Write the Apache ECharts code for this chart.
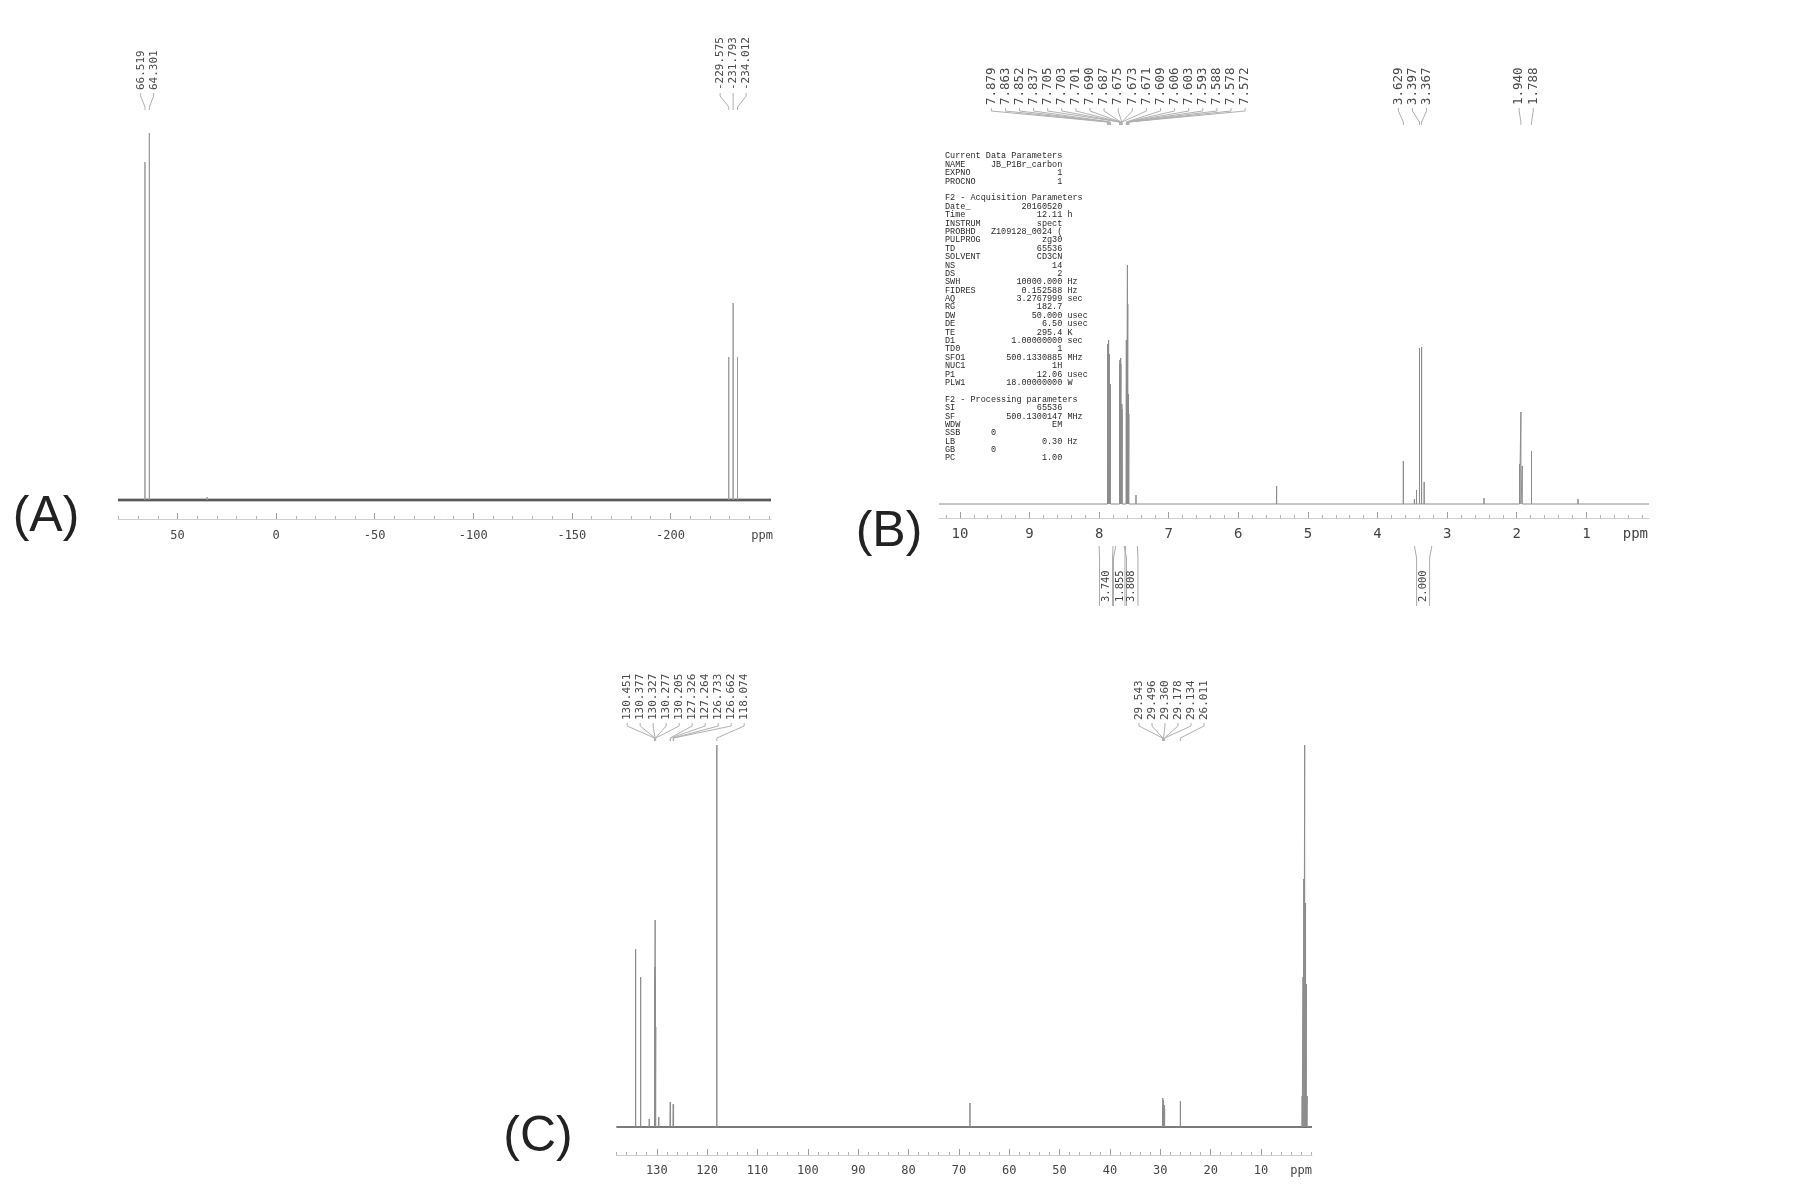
<!DOCTYPE html>
<html><head><meta charset="utf-8">
<script src="https://cdn.jsdelivr.net/npm/echarts@6/dist/echarts.min.js"></script>
<style>html,body{margin:0;padding:0;background:#fff}#c{width:1800px;height:1200px}</style>
</head><body><div id="c"></div>
<script>
// ---------------- DATA ----------------
// Panel A (19F spectrum)
const peaksA_ppm = [66.519, 64.301, 35.0, -229.575, -231.793, -234.012];
const peaksA_int = [338, 367, 3, 143, 197, 143];
const labelsA = [['66.519', '64.301'], ['-229.575', '-231.793', '-234.012']];
const ticksA = [50, 0, -50, -100, -150, -200];

// Panel B (1H spectrum)
const peaksB_ppm = [7.879, 7.863, 7.852, 7.837, 7.705, 7.703, 7.701, 7.690, 7.687, 7.675, 7.673, 7.671,
  7.609, 7.606, 7.603, 7.593, 7.588, 7.578, 7.572, 7.47, 5.45, 3.629, 3.47, 3.44, 3.397, 3.367, 3.33,
  2.47, 1.96, 1.940, 1.92, 1.788, 1.12];
const peaksB_int = [160, 164, 150, 120, 130, 140, 144, 146, 140, 90, 100, 95,
  164, 150, 160, 239, 200, 110, 90, 9, 18, 43, 5, 14, 156, 157, 22,
  6, 40, 92, 38, 53, 5];
const labelsB = [['7.879', '7.863', '7.852', '7.837', '7.705', '7.703', '7.701', '7.690', '7.687', '7.675',
  '7.673', '7.671', '7.609', '7.606', '7.603', '7.593', '7.588', '7.578', '7.572'],
  ['3.629', '3.397', '3.367'], ['1.940', '1.788']];
const ticksB = [10, 9, 8, 7, 6, 5, 4, 3, 2, 1];
const integralVals = ['3.740', '1.855', '3.808', '2.000'];
const integralFrom = [8.0, 7.76, 7.62, 3.47];
const integralTo = [7.8, 7.64, 7.45, 3.22];

// Panel C (13C spectrum)
const peaksC_ppm = [134.2, 133.2, 131.5, 130.451, 130.377, 130.327, 130.277, 130.205, 129.6,
  127.326, 127.264, 126.733, 126.662, 118.074, 67.8,
  29.543, 29.496, 29.360, 29.178, 29.134, 26.011,
  1.82, 1.65, 1.49, 1.32, 1.15, 0.99, 0.82];
const peaksC_int = [178, 150, 8, 120, 160, 207, 150, 100, 10,
  25, 24, 23, 22, 382, 24,
  20, 29, 27, 22, 18, 26,
  31, 150, 248, 382, 224, 143, 31];
const labelsC = [['130.451', '130.377', '130.327', '130.277', '130.205', '127.326', '127.264', '126.733', '126.662', '118.074'],
  ['29.543', '29.496', '29.360', '29.178', '29.134', '26.011']];
const ticksC = [130, 120, 110, 100, 90, 80, 70, 60, 50, 40, 30, 20, 10];

// Acquisition parameter text block (panel B)
const params = [
  ['Current Data Parameters'], ['NAME', 'JB_P1Br_carbon'], ['EXPNO', '1'], ['PROCNO', '1'], [''],
  ['F2 - Acquisition Parameters'], ['Date_', '20160520'], ['Time', '12.11', 'h'], ['INSTRUM', 'spect'],
  ['PROBHD', 'Z109128_0024 ('], ['PULPROG', 'zg30'], ['TD', '65536'], ['SOLVENT', 'CD3CN'], ['NS', '14'],
  ['DS', '2'], ['SWH', '10000.000', 'Hz'], ['FIDRES', '0.152588', 'Hz'], ['AQ', '3.2767999', 'sec'],
  ['RG', '182.7'], ['DW', '50.000', 'usec'], ['DE', '6.50', 'usec'], ['TE', '295.4', 'K'],
  ['D1', '1.00000000', 'sec'], ['TD0', '1'], ['SFO1', '500.1330885', 'MHz'], ['NUC1', '1H'],
  ['P1', '12.06', 'usec'], ['PLW1', '18.00000000', 'W'], [''],
  ['F2 - Processing parameters'], ['SI', '65536'], ['SF', '500.1300147', 'MHz'], ['WDW', 'EM'],
  ['SSB      0'], ['LB', '0.30', 'Hz'], ['GB       0'], ['PC', '1.00']
];

// ---------------- BUILD ----------------
const MONO = '"DejaVu Sans Mono", monospace';
function sticks(ppm, ints, xmin, xmax) {
  const idx = ppm.map((p, i) => i).sort((a, b) => ppm[b] - ppm[a]);
  const d = [[xmax, 0]];
  idx.forEach(i => { d.push([ppm[i], 0], [ppm[i], ints[i]], [ppm[i], 0]); });
  d.push([xmin, 0]);
  return d;
}
function minorTicks(lo, hi, step) {
  const out = [];
  for (let k = Math.ceil(lo / step - 1e-9); k * step <= hi + 1e-9; k++) out.push(+(k * step).toFixed(4));
  return out;
}
function axesFor(grid, min, max, minorVals, majorVals, fontSize, margin) {
  return [
    { gridIndex: grid, type: 'value', min, max, inverse: true, position: 'bottom',
      axisLine: { show: true, onZero: false, lineStyle: { color: '#cfcfcf', width: 1 } },
      axisTick: { show: true, inside: true, length: 3, customValues: minorVals, lineStyle: { color: '#b5b5b5' } },
      axisLabel: { show: false }, splitLine: { show: false } },
    { gridIndex: grid, type: 'value', min, max, inverse: true, position: 'bottom',
      axisLine: { show: false, onZero: false },
      axisTick: { show: true, inside: true, length: 6, customValues: majorVals, lineStyle: { color: '#a0a0a0' } },
      axisLabel: { show: true, customValues: majorVals, fontSize, margin, color: '#444', fontFamily: MONO },
      splitLine: { show: false } }
  ];
}

const xA = [-251, 80.2], xB = [0.1, 10.3], xC = [-0.13, 138];

const chart = echarts.init(document.getElementById('c'));
chart.setOption({
  animation: false,
  backgroundColor: '#fff',
  grid: [
    { left: 118, top: 119, width: 653, height: 400 },
    { left: 939, top: 118, width: 710, height: 400 },
    { left: 616.5, top: 735, width: 695.5, height: 420 }
  ],
  xAxis: [
    ...axesFor(0, xA[0], xA[1], minorTicks(-250, 80, 10), ticksA, 12, 11),
    ...axesFor(1, xB[0], xB[1], minorTicks(0.2, 10.2, 0.2), ticksB, 14, 9),
    ...axesFor(2, xC[0], xC[1], minorTicks(0, 138, 2), ticksC, 12, 10)
  ],
  yAxis: [
    { gridIndex: 0, type: 'value', min: -19, max: 381, show: false },
    { gridIndex: 1, type: 'value', min: -14, max: 386, show: false },
    { gridIndex: 2, type: 'value', min: -28, max: 392, show: false }
  ],
  series: [
    { type: 'line', xAxisIndex: 0, yAxisIndex: 0, showSymbol: false, silent: true,
      data: [[xA[1], 0], [xA[0], 0]], lineStyle: { color: '#1a1a1a', width: 2.4 }, z: 2 },
    { type: 'line', xAxisIndex: 0, yAxisIndex: 0, showSymbol: false, silent: true,
      data: sticks(peaksA_ppm, peaksA_int, xA[0], xA[1]), lineStyle: { color: '#9a9a9a', width: 1 }, z: 3 },
    { type: 'line', xAxisIndex: 2, yAxisIndex: 1, showSymbol: false, silent: true,
      data: sticks(peaksB_ppm, peaksB_int, xB[0], xB[1]), lineStyle: { color: '#8c8c8c', width: 1 }, z: 3 },
    { type: 'line', xAxisIndex: 4, yAxisIndex: 2, showSymbol: false, silent: true,
      data: [[xC[1], 0], [xC[0], 0]], lineStyle: { color: '#3a3a3a', width: 1.6 }, z: 2 },
    { type: 'line', xAxisIndex: 4, yAxisIndex: 2, showSymbol: false, silent: true,
      data: sticks(peaksC_ppm, peaksC_int, xC[0], xC[1]), lineStyle: { color: '#8c8c8c', width: 1 }, z: 3 }
  ]
});

// ---------------- ANNOTATIONS ----------------
const els = [];
function px(xIdx, v) { return chart.convertToPixel({ xAxisIndex: xIdx }, v); }
function vtext(x, y, text, size, color) {
  els.push({ type: 'text', x, y, rotation: Math.PI / 2, silent: true,
    style: { text, font: size + 'px ' + MONO, fill: color || '#444',
      align: 'left', verticalAlign: 'middle', textAlign: 'left', textVerticalAlign: 'middle' } });
}
function line(points, color) {
  els.push({ type: 'polyline', silent: true, shape: { points },
    style: { stroke: color || '#aaa', lineWidth: 1, fill: null } });
}
function labelGroups(xIdx, groups, spacing, yb, yc, size) {
  groups.forEach(g => {
    const pks = g.map(l => px(xIdx, parseFloat(l)));
    const mid = (Math.min(...pks) + Math.max(...pks)) / 2;
    const n = g.length;
    g.forEach((l, i) => {
      const lx = mid + (i - (n - 1) / 2) * spacing;
      vtext(lx, yb, l, size, '#4a4a4a');
      line([[lx, yb + 3], [lx, yb + 6], [pks[i], yc], [pks[i], yc + 3]], '#b0b0b0');
    });
  });
}
labelGroups(0, labelsA, 13, 90, 107, 11);
labelGroups(2, labelsB, 14.1, 105, 122, 12.5);
labelGroups(4, labelsC, 13, 720, 738, 11);

// integrals under panel B
integralVals.forEach((v, i) => {
  const a = px(2, integralFrom[i]), b = px(2, integralTo[i]);
  const cx = (a + b) / 2;
  line([[a, 546], [cx - 6.5, 558], [cx - 6.5, 606]], '#aaa');
  line([[b, 546], [cx + 6.5, 558], [cx + 6.5, 606]], '#aaa');
  vtext(cx, 602, v, 10.5, '#444');
});

// "ppm" axis unit labels
function ppmLabel(xIdx, minVal, y, size, dx) {
  els.push({ type: 'text', x: px(xIdx, minVal) + dx, y, silent: true,
    style: { text: 'ppm', font: size + 'px ' + MONO, fill: '#444',
      align: 'right', verticalAlign: 'middle', textAlign: 'right', textVerticalAlign: 'middle' } });
}
ppmLabel(0, xA[0], 536, 12, 2);
ppmLabel(2, xB[0], 534, 14, -1);
ppmLabel(4, xC[0], 1171, 12, 0);

// panel letters
[['(A)', 46, 517], ['(B)', 889, 532], ['(C)', 538, 1137]].forEach(([t, x, y]) => {
  els.push({ type: 'text', x, y, silent: true,
    style: { text: t, font: '50px "Liberation Sans", Arial, sans-serif', fill: '#222',
      align: 'center', verticalAlign: 'middle', textAlign: 'center', textVerticalAlign: 'middle' } });
});

// parameter block
const paramLines = params.map(p => {
  if (p.length === 1) return p[0];
  const [n, v, u] = p;
  const gap = Math.max(1, 23 - n.length - v.length);
  return n + ' '.repeat(gap) + v + (u ? ' ' + u : '');
});
els.push({ type: 'text', x: 945, y: 152, silent: true,
  style: { text: paramLines.join('\n'), font: '8.5px "Liberation Mono", monospace', fill: '#2a2a2a',
    lineHeight: 8.39, align: 'left', verticalAlign: 'top', textAlign: 'left', textVerticalAlign: 'top' } });

chart.setOption({ graphic: { elements: els } });
</script></body></html>
